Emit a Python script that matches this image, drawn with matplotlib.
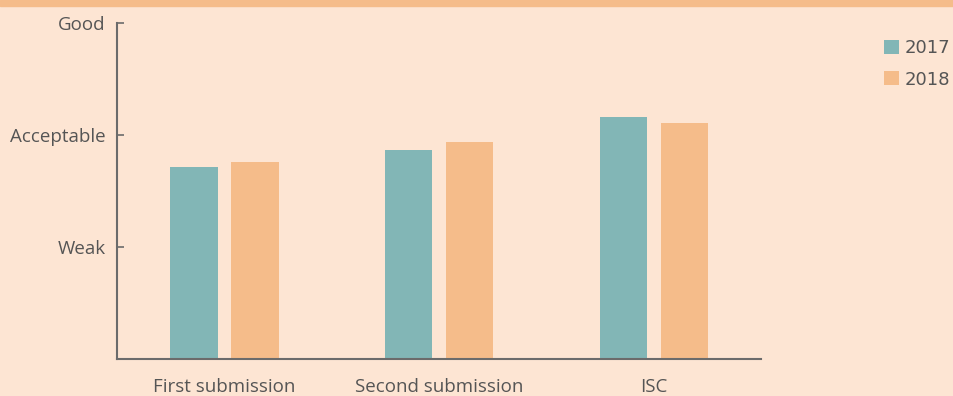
import matplotlib
matplotlib.use("Agg")
import matplotlib.pyplot as plt
import numpy as np

categories = ["First submission", "Second submission", "ISC"]
years = ["2017", "2018"]
values_2017 = [1.72, 1.87, 2.165]
values_2018 = [1.76, 1.94, 2.11]
y_ticks = [1, 2, 3]
y_labels = ["Weak", "Acceptable", "Good"]

teal = "#82b6b6"
peach = "#f5bc8a"
bg = "#fde5d3"
text_col = "#555555"
axis_col = "#6b6b6b"

fig = plt.figure(figsize=(9.54, 3.96), dpi=100, facecolor=bg)
ax = fig.add_axes([0.1226, 0.0922, 0.798 - 0.1226, 0.942 - 0.0922], facecolor=bg)

# orange band along the top edge
fig.patches.append(plt.Rectangle((0, 1 - 6 / 396), 1, 6 / 396, transform=fig.transFigure,
                                 color=peach, zorder=0))

x = np.arange(len(categories))
w = 0.222
off = 0.142
ax.bar(x - off, values_2017, width=w, color=teal, label=years[0])
ax.bar(x + off, values_2018, width=w, color=peach, label=years[1])

ax.set_xlim(-0.5, 2.5)
ax.set_ylim(0, 3)
ax.set_yticks(y_ticks)
ax.set_yticklabels(y_labels)
ax.set_xticks(x)
ax.set_xticklabels(categories)

for s in ["top", "right"]:
    ax.spines[s].set_visible(False)
for s in ["left", "bottom"]:
    ax.spines[s].set_color(axis_col)
    ax.spines[s].set_linewidth(1.5)

ax.tick_params(axis="y", direction="in", length=5, width=1.2, color=axis_col,
               labelcolor=text_col, labelsize=13.5, pad=8)
ax.tick_params(axis="x", length=0, labelcolor=text_col, labelsize=13.5, pad=13)
for lab in ax.get_xticklabels() + ax.get_yticklabels():
    lab.set_fontfamily("Open Sans")

handles, labels = ax.get_legend_handles_labels()
leg = fig.legend(handles, labels, loc="upper left",
                 bbox_to_anchor=(884 / 954, 1 - 39 / 396), frameon=False,
                 handlelength=0.85, handleheight=0.85, handletextpad=0.3,
                 labelspacing=0.75, fontsize=13, borderaxespad=0, borderpad=0)
for t in leg.get_texts():
    t.set_color(text_col)

fig.savefig("out.png", dpi=100, facecolor=bg)
